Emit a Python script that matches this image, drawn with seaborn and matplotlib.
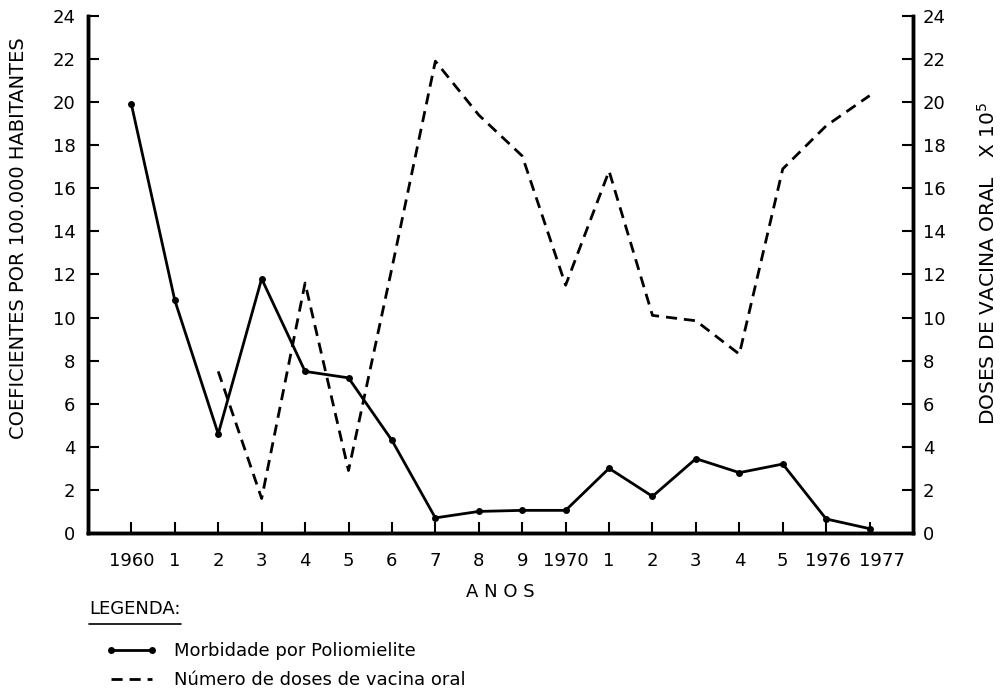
import pandas as pd
import matplotlib.pyplot as plt
import matplotlib.transforms as mtransforms
import seaborn as sns
from matplotlib.lines import Line2D

# data
years = ["1960", "1", "2", "3", "4", "5", "6", "7", "8", "9",
         "1970", "1", "2", "3", "4", "5", "1976", "1977"]
morbidity = [19.9, 10.8, 4.6, 11.8, 7.5, 7.2, 4.3, 0.7, 1.0, 1.05,
             1.05, 3.0, 1.7, 3.45, 2.8, 3.2, 0.65, 0.2]
# vaccine doses start in 1962
dose_years = years[2:]
doses = [7.5, 1.6, 11.6, 2.9, 12.3, 21.9, 19.4, 17.5, 11.5,
         16.8, 10.1, 9.85, 8.3, 16.9, 18.9, 20.3]

morb_df = pd.DataFrame({"pos": range(len(years)), "value": morbidity})
dose_df = pd.DataFrame({"pos": range(2, 2 + len(dose_years)), "value": doses})

sns.set_style("white")
plt.rcParams["font.family"] = ["DejaVu Sans"]
plt.rcParams["text.color"] = "black"
plt.rcParams["axes.labelcolor"] = "black"
fs = 13

fig = plt.figure(figsize=(10.04, 6.92), dpi=100)
ax = fig.add_axes([0.0876, 0.2298, 0.8218, 0.7472])
ax2 = ax.twinx()

sns.lineplot(data=morb_df, x="pos", y="value", ax=ax, color="black",
             linewidth=2, marker="o", markersize=5, markeredgewidth=0,
             label="Morbidade por Poliomielite", legend=False)
sns.lineplot(data=dose_df, x="pos", y="value", ax=ax2, color="black",
             linewidth=2, label="Número de doses de vacina oral",
             legend=False)
ax2.lines[0].set_linestyle((0, (4, 2.5)))

for a in (ax, ax2):
    a.set_ylim(0, 24)
    a.set_yticks(range(0, 25, 2))
    a.set_xlim(-1, 18)
    a.set_xlabel("")
    a.set_ylabel("")
    for s in a.spines.values():
        s.set_linewidth(2.5)
        s.set_color("black")
    a.spines["top"].set_visible(False)

ax.set_xticks(range(len(years)))
ax.set_xticklabels(years)
ax.tick_params(axis="both", direction="in", length=8, width=1.5,
               labelsize=fs, colors="black")
ax.tick_params(axis="y", right=False, left=True, pad=9)
ax.tick_params(axis="x", top=False, bottom=True, pad=14)
ax2.tick_params(axis="y", direction="in", length=8, width=1.5, colors="black",
                labelsize=fs, pad=7, right=True, left=False)

# the last two year labels sit slightly right of their ticks in the original
for lbl, dx in zip(ax.get_xticklabels()[-2:], (2, 12)):
    lbl.set_transform(lbl.get_transform() +
                      mtransforms.ScaledTranslation(dx / 100, 0, fig.dpi_scale_trans))

ax.set_ylabel("COEFICIENTES POR 100.000 HABITANTES", fontsize=14)
ax.yaxis.set_label_coords(-0.073, 0.571)
ax2.set_ylabel("DOSES DE VACINA ORAL   X 10$^5$", fontsize=14.5)
ax2.yaxis.set_label_coords(1.078, 0.522)
ax.set_xlabel("A N O S", fontsize=fs)
ax.xaxis.set_label_coords(0.5, -0.097)

# legend block below the plot
t = fig.text(0.089, 0.112, "LEGENDA:", fontsize=fs, ha="left", va="baseline")
fig.canvas.draw()
bb = t.get_window_extent().transformed(fig.transFigure.inverted())
fig.add_artist(Line2D([bb.x0, bb.x1], [bb.y0 - 0.008, bb.y0 - 0.008],
                      transform=fig.transFigure, color="black", linewidth=1.2))

handles = [ax.lines[0], ax2.lines[0]]
fig.legend(handles, [h.get_label() for h in handles], loc="center left",
           bbox_to_anchor=(0.105, 0.038), frameon=False, fontsize=fs,
           handlelength=2.9, handletextpad=0.9, labelspacing=0.62,
           numpoints=2, borderaxespad=0, borderpad=0)

fig.savefig("out.png", dpi=100)
